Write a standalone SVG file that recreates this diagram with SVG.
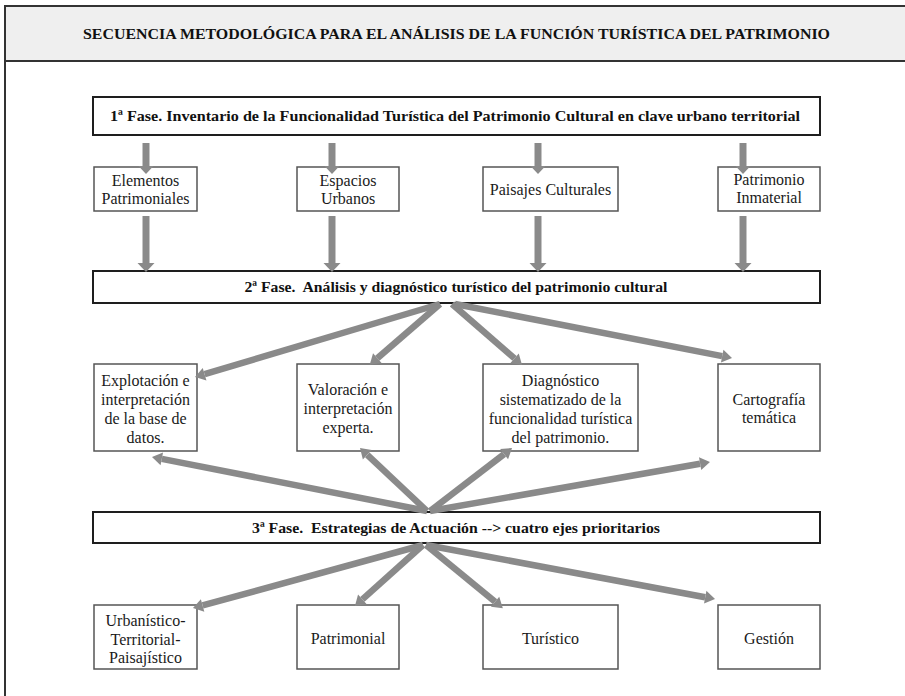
<svg xmlns="http://www.w3.org/2000/svg" width="905" height="696" viewBox="0 0 905 696">
<style>
.frame{fill:#ffffff;stroke:#333333;stroke-width:2}
.band{fill:#efefef;stroke:#333333;stroke-width:2}
.phase{fill:#ffffff;stroke:#1e1e1e;stroke-width:2}
.box{fill:#ffffff;stroke:#555555;stroke-width:1.5}
text{font-family:'Liberation Serif','DejaVu Serif','Noto Serif',serif}
.t{font-size:16px;fill:#1a1a1a;text-anchor:middle}
.h{font-weight:bold;font-size:15.5px;fill:#111111;text-anchor:middle}
.title{font-weight:bold;font-size:15px;fill:#111111;text-anchor:middle}
.arr{stroke:#8a8a8a;stroke-width:6.5;fill:none}
.vs{stroke:#8a8a8a;stroke-width:7;fill:none}
</style>
<defs>
<marker id="hd" markerUnits="userSpaceOnUse" markerWidth="12" markerHeight="16" refX="0" refY="0" viewBox="0 -8 12 16" orient="auto" overflow="visible">
<path d="M0,-6.5 L10,0 L0,6.5 z" fill="#8a8a8a"/>
</marker>
<marker id="hv1" markerUnits="userSpaceOnUse" markerWidth="10" markerHeight="18" refX="0" refY="0" viewBox="0 -9 10 18" orient="auto" overflow="visible">
<path d="M0,-7.5 L8,0 L0,7.5 z" fill="#8a8a8a"/>
</marker>
<marker id="hv2" markerUnits="userSpaceOnUse" markerWidth="10" markerHeight="20" refX="0" refY="0" viewBox="0 -10 10 20" orient="auto" overflow="visible">
<path d="M0,-8.5 L9,0 L0,8.5 z" fill="#8a8a8a"/>
</marker>
</defs>

<rect class="frame" x="5" y="6" width="910" height="700"/>
<g id="title">
<rect class="band" x="5" y="6" width="910" height="55"/>
<text class="title" x="456.5" y="39" textLength="747" lengthAdjust="spacingAndGlyphs">SECUENCIA METODOLÓGICA PARA EL ANÁLISIS DE LA FUNCIÓN TURÍSTICA DEL PATRIMONIO</text>
</g>

<g id="fase1">
<rect class="phase" x="93" y="97" width="727" height="38"/>
<text class="h" x="455" y="121" textLength="690" lengthAdjust="spacingAndGlyphs">1ª Fase. Inventario de la Funcionalidad Turística del Patrimonio Cultural en clave urbano territorial</text>
</g>

<g id="elementos">
<rect class="box" x="94" y="167" width="103" height="44"/>
<text class="t" x="145.5" y="185.5">Elementos</text>
<text class="t" x="145.5" y="203.5">Patrimoniales</text>
</g>
<g id="espacios">
<rect class="box" x="297" y="167" width="102" height="44"/>
<text class="t" x="348" y="185.5">Espacios</text>
<text class="t" x="348" y="203.5">Urbanos</text>
</g>
<g id="paisajes">
<rect class="box" x="483" y="167" width="135" height="44"/>
<text class="t" x="550.5" y="194.5">Paisajes Culturales</text>
</g>
<g id="inmaterial">
<rect class="box" x="718" y="167" width="102" height="44"/>
<text class="t" x="769" y="185">Patrimonio</text>
<text class="t" x="769" y="203">Inmaterial</text>
</g>

<g id="fase2">
<rect class="phase" x="93" y="271" width="727" height="32"/>
<text class="h" x="456" y="292" textLength="423" lengthAdjust="spacingAndGlyphs" xml:space="preserve">2ª Fase.  Análisis y diagnóstico turístico del patrimonio cultural</text>
</g>

<g id="explotacion">
<rect class="box" x="94" y="364" width="103" height="87"/>
<text class="t" x="145.5" y="385.5">Explotación e</text>
<text class="t" x="145.5" y="404.5">interpretación</text>
<text class="t" x="145.5" y="423.5">de la base de</text>
<text class="t" x="145.5" y="442.5">datos.</text>
</g>
<g id="valoracion">
<rect class="box" x="297" y="364" width="102" height="87"/>
<text class="t" x="348" y="394.5">Valoración e</text>
<text class="t" x="348" y="413.5">interpretación</text>
<text class="t" x="348" y="432.5">experta.</text>
</g>
<g id="diagnostico">
<rect class="box" x="483" y="364" width="155" height="87"/>
<text class="t" x="560.5" y="386">Diagnóstico</text>
<text class="t" x="560.5" y="404.5">sistematizado de la</text>
<text class="t" x="560.5" y="423.5">funcionalidad turística</text>
<text class="t" x="560.5" y="442.5">del patrimonio.</text>
</g>
<g id="cartografia">
<rect class="box" x="718" y="364" width="102" height="87"/>
<text class="t" x="769" y="404.5">Cartografía</text>
<text class="t" x="769" y="422.5">temática</text>
</g>

<g id="fase3">
<rect class="phase" x="93" y="512" width="727" height="31"/>
<text class="h" x="456" y="533" textLength="408" lengthAdjust="spacingAndGlyphs" xml:space="preserve">3ª Fase.  Estrategias de Actuación --&gt; cuatro ejes prioritarios</text>
</g>

<g id="urbanistico">
<rect class="box" x="94" y="605" width="103" height="64"/>
<text class="t" x="145.5" y="625.5">Urbanístico-</text>
<text class="t" x="145.5" y="644.5">Territorial-</text>
<text class="t" x="145.5" y="662.5">Paisajístico</text>
</g>
<g id="patrimonial">
<rect class="box" x="297" y="605" width="102" height="64"/>
<text class="t" x="348" y="643.5">Patrimonial</text>
</g>
<g id="turistico">
<rect class="box" x="483" y="605" width="135" height="64"/>
<text class="t" x="550.5" y="643.5">Turístico</text>
</g>
<g id="gestion">
<rect class="box" x="718" y="605" width="102" height="64"/>
<text class="t" x="769" y="643.5">Gestión</text>
</g>

<g id="connectors">
<line class="vs" x1="146" y1="143" x2="146" y2="166" marker-end="url(#hv1)"/>
<line class="vs" x1="332" y1="143" x2="332" y2="166" marker-end="url(#hv1)"/>
<line class="vs" x1="538" y1="143" x2="538" y2="166" marker-end="url(#hv1)"/>
<line class="vs" x1="743" y1="143" x2="743" y2="166" marker-end="url(#hv1)"/>
<line class="vs" x1="146" y1="216" x2="146" y2="263" marker-end="url(#hv2)"/>
<line class="vs" x1="332" y1="216" x2="332" y2="263" marker-end="url(#hv2)"/>
<line class="vs" x1="538" y1="216" x2="538" y2="263" marker-end="url(#hv2)"/>
<line class="vs" x1="743" y1="216" x2="743" y2="263" marker-end="url(#hv2)"/>

<line class="arr" x1="440" y1="304" x2="204.6" y2="374.2" marker-end="url(#hd)"/>
<line class="arr" x1="440" y1="304" x2="377.3" y2="358.2" marker-end="url(#hd)"/>
<line class="arr" x1="452" y1="304" x2="514.5" y2="358.4" marker-end="url(#hd)"/>
<line class="arr" x1="455" y1="304" x2="722.2" y2="356.1" marker-end="url(#hd)"/>

<line class="arr" x1="427" y1="511" x2="161.8" y2="458.9" marker-end="url(#hd)"/>
<line class="arr" x1="427" y1="511" x2="367.3" y2="454.8" marker-end="url(#hd)"/>
<line class="arr" x1="430" y1="511" x2="504.1" y2="454.1" marker-end="url(#hd)"/>
<line class="arr" x1="430" y1="511" x2="700.1" y2="463.7" marker-end="url(#hd)"/>

<line class="arr" x1="423" y1="545" x2="202.6" y2="605.4" marker-end="url(#hd)"/>
<line class="arr" x1="423" y1="545" x2="362.4" y2="599.3" marker-end="url(#hd)"/>
<line class="arr" x1="426" y1="545" x2="495.1" y2="601.8" marker-end="url(#hd)"/>
<line class="arr" x1="426" y1="545" x2="705.2" y2="597.2" marker-end="url(#hd)"/>
</g>
</svg>
